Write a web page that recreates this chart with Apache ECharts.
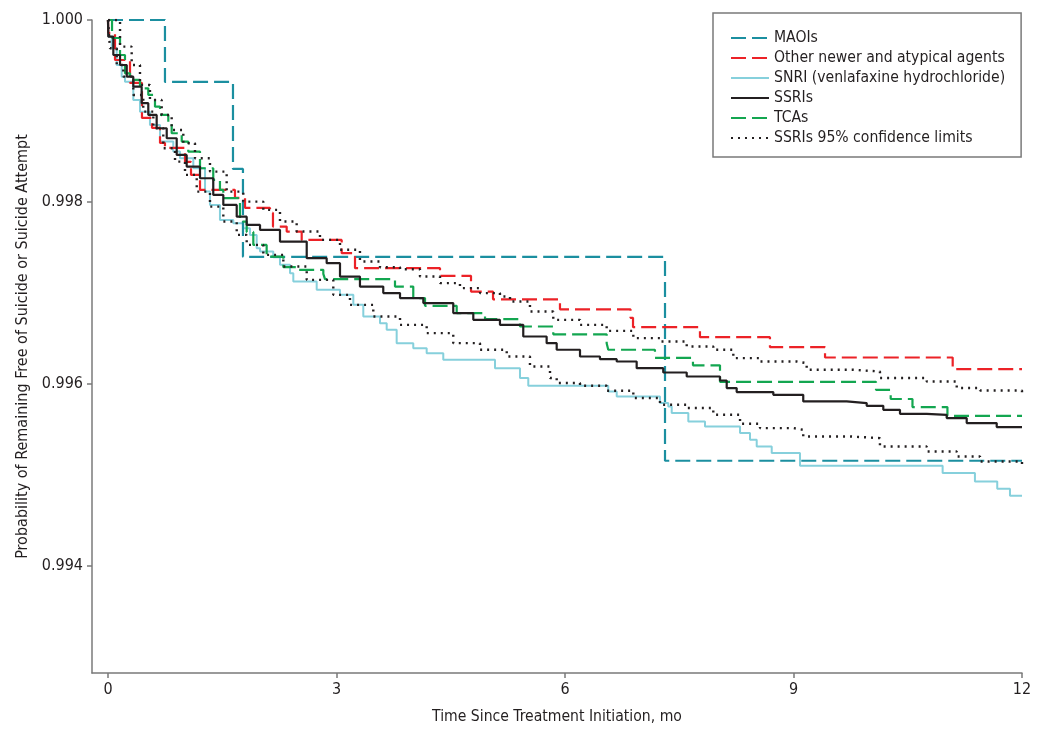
<!DOCTYPE html>
<html>
<head>
<meta charset="utf-8">
<script src="https://cdn.jsdelivr.net/npm/echarts@6/dist/echarts.min.js"></script>
<style>
html,body{margin:0;padding:0;background:#fff;}
#chart{width:1050px;height:738px;}
</style>
</head>
<body>
<div id="chart"></div>
<script>
// Series names
var seriesNames = ['MAOIs', 'Other newer and atypical agents', 'SNRI (venlafaxine hydrochloride)', 'SSRIs', 'TCAs', 'SSRIs 95% confidence limits'];
var xTicks = [0, 3, 6, 9, 12];
var yTicks = [0.994, 0.996, 0.998, 1.000];

// [month, survival probability] – Kaplan-Meier step points
var maoi = [[0,1],[0.748,0.999319],[1.641,0.998363],[1.772,0.997396],[7.313,0.995154],[12,0.995154]];

var other = [[0,1],[0.004,0.999857],[0.092,0.999560],[0.289,0.999308],[0.446,0.998923],[0.578,0.998813],[0.683,0.998648],[0.748,0.998593],[1.011,0.998440],[1.090,0.998297],[1.208,0.998132],[1.667,0.998044],[1.799,0.997934],[2.127,0.997879],[2.166,0.997729],[2.346,0.997674],[2.543,0.997582],[3.068,0.997436],[3.243,0.997271],[4.359,0.997187],[4.766,0.997014],[5.055,0.996929],[5.934,0.996819],[6.860,0.996725],[6.893,0.996623],[7.772,0.996513],[8.691,0.996403],[9.414,0.996289],[11.090,0.996162],[12,0.996162]];

var snri = [[0,1],[0.007,0.999817],[0.049,0.999689],[0.114,0.999505],[0.180,0.999377],[0.223,0.999322],[0.332,0.999121],[0.420,0.998992],[0.551,0.998846],[0.683,0.998663],[0.857,0.998553],[0.945,0.998480],[1.120,0.998370],[1.274,0.998113],[1.339,0.997967],[1.470,0.997802],[1.645,0.997766],[1.776,0.997711],[1.864,0.997637],[1.952,0.997491],[1.996,0.997454],[2.170,0.997392],[2.258,0.997308],[2.390,0.997216],[2.433,0.997124],[2.740,0.997033],[3.046,0.996978],[3.221,0.996868],[3.352,0.996740],[3.571,0.996667],[3.659,0.996593],[3.790,0.996447],[4.008,0.996392],[4.184,0.996337],[4.402,0.996264],[5.081,0.996172],[5.409,0.996063],[5.518,0.995978],[6.568,0.995915],[6.679,0.995860],[7.247,0.995788],[7.356,0.995751],[7.401,0.995678],[7.619,0.995586],[7.838,0.995531],[8.298,0.995458],[8.429,0.995385],[8.517,0.995311],[8.714,0.995238],[9.085,0.995099],[10.958,0.995019],[11.382,0.994926],[11.675,0.994846],[11.842,0.994769],[12,0.994769]];

var ssri = [[0,1],[0.004,0.999817],[0.070,0.999615],[0.158,0.999505],[0.246,0.999377],[0.332,0.999267],[0.442,0.999085],[0.529,0.998956],[0.639,0.998810],[0.771,0.998700],[0.902,0.998516],[1.033,0.998388],[1.208,0.998260],[1.382,0.998077],[1.514,0.997967],[1.690,0.997838],[1.821,0.997747],[1.996,0.997692],[2.258,0.997564],[2.609,0.997381],[2.871,0.997326],[3.046,0.997179],[3.308,0.997069],[3.614,0.996997],[3.834,0.996942],[4.140,0.996887],[4.533,0.996777],[4.796,0.996703],[5.146,0.996648],[5.452,0.996520],[5.759,0.996447],[5.891,0.996374],[6.197,0.996300],[6.459,0.996271],[6.679,0.996245],[6.941,0.996172],[7.290,0.996124],[7.598,0.996080],[8.035,0.996036],[8.123,0.995953],[8.254,0.995909],[8.735,0.995879],[9.128,0.995806],[9.698,0.995788],[9.961,0.995758],[10.179,0.995714],[10.398,0.995670],[10.749,0.995659],[11.011,0.995623],[11.274,0.995568],[11.668,0.995524],[12,0.995524]];

var tca = [[0,1],[0.053,0.999802],[0.158,0.999615],[0.223,0.999414],[0.289,0.999341],[0.420,0.999249],[0.529,0.999176],[0.617,0.999047],[0.683,0.998956],[0.792,0.998865],[0.836,0.998755],[0.968,0.998663],[1.054,0.998553],[1.208,0.998370],[1.382,0.998242],[1.470,0.998132],[1.514,0.998041],[1.733,0.997784],[1.821,0.997670],[1.908,0.997527],[2.083,0.997399],[2.302,0.997282],[2.498,0.997253],[2.827,0.997209],[2.849,0.997150],[3.768,0.997069],[4.008,0.996942],[4.162,0.996857],[4.578,0.996777],[4.950,0.996711],[5.409,0.996630],[5.846,0.996544],[6.547,0.996447],[6.568,0.996374],[7.181,0.996286],[7.680,0.996203],[8.035,0.996022],[10.083,0.995934],[10.276,0.995833],[10.562,0.995744],[11.021,0.995648],[12,0.995648]];

var ciUpper = [[0,1],[0.158,0.999707],[0.311,0.999505],[0.420,0.999286],[0.551,0.999121],[0.705,0.998956],[0.836,0.998791],[0.989,0.998645],[1.142,0.998480],[1.339,0.998333],[1.558,0.998113],[1.776,0.998003],[2.039,0.997912],[2.258,0.997784],[2.477,0.997674],[2.783,0.997582],[3.046,0.997473],[3.308,0.997344],[3.571,0.997282],[3.834,0.997260],[4.096,0.997179],[4.359,0.997107],[4.621,0.997052],[4.884,0.996997],[5.146,0.996959],[5.278,0.996904],[5.540,0.996795],[5.846,0.996703],[6.197,0.996648],[6.547,0.996582],[6.897,0.996502],[7.247,0.996465],[7.598,0.996410],[7.947,0.996374],[8.210,0.996282],[8.560,0.996245],[9.042,0.996227],[9.173,0.996154],[9.785,0.996135],[10.135,0.996063],[10.749,0.996025],[11.143,0.995953],[11.449,0.995926],[12,0.995904]];

var ciLower = [[0,1],[0.026,0.999689],[0.115,0.999505],[0.201,0.999377],[0.332,0.999176],[0.463,0.998992],[0.595,0.998810],[0.726,0.998590],[0.880,0.998443],[1.011,0.998297],[1.165,0.998113],[1.339,0.997948],[1.514,0.997784],[1.690,0.997637],[1.821,0.997527],[2.039,0.997418],[2.302,0.997289],[2.609,0.997143],[2.958,0.996978],[3.177,0.996868],[3.483,0.996740],[3.834,0.996648],[4.184,0.996557],[4.533,0.996447],[4.884,0.996374],[5.235,0.996300],[5.540,0.996190],[5.803,0.996063],[5.891,0.996008],[6.197,0.995978],[6.547,0.995923],[6.897,0.995843],[7.247,0.995769],[7.598,0.995733],[7.947,0.995659],[8.298,0.995560],[8.560,0.995513],[8.997,0.995494],[9.128,0.995421],[9.742,0.995403],[10.135,0.995311],[10.749,0.995256],[11.143,0.995201],[11.449,0.995146],[12,0.995110]];

var FONT = '"Liberation Sans Narrow", "DejaVu Sans Condensed", "Liberation Sans", sans-serif';
var TXT = '#231f20';
var AXIS = '#7a7a7a';

function mk(name, data, color, type, width, z) {
  return {
    name: name, type: 'line', data: data, step: 'end',
    symbol: 'none', showSymbol: false, z: z || 2,
    lineStyle: { color: color, width: width, type: type, cap: 'butt' },
    itemStyle: { color: color },
    emphasis: { disabled: true }
  };
}

var chart = echarts.init(document.getElementById('chart'), null, { renderer: 'canvas' });
chart.setOption({
  animation: false,
  backgroundColor: '#ffffff',
  textStyle: { fontFamily: FONT, color: TXT },
  grid: { left: 92, right: 28, top: 20, bottom: 65 },
  legend: {
    orient: 'vertical', left: 713, top: 13,
    padding: [16, 16, 10, 17],
    borderColor: '#7a7a7a', borderWidth: 1.5,
    itemWidth: 38, itemHeight: 14, itemGap: 2,
    itemStyle: { opacity: 0 },
    data: seriesNames,
    textStyle: { fontFamily: FONT, fontSize: 15.6, color: TXT, lineHeight: 18 },
    selectedMode: false
  },
  xAxis: {
    type: 'value', min: -0.21, max: 12, interval: 3,
    name: 'Time Since Treatment Initiation, mo', nameLocation: 'middle', nameGap: 36,
    nameTextStyle: { fontFamily: FONT, fontSize: 15.6, color: TXT },
    axisLine: { onZero: false, lineStyle: { color: AXIS, width: 1.5 } },
    axisTick: { show: true, length: 5, lineStyle: { color: AXIS, width: 1.5 }, customValues: xTicks },
    axisLabel: { fontFamily: FONT, fontSize: 16, color: TXT, margin: 9, customValues: xTicks },
    splitLine: { show: false }
  },
  yAxis: {
    type: 'value', min: 0.99282, max: 1.0,
    name: 'Probability of Remaining Free of Suicide or Suicide Attempt', nameLocation: 'middle', nameGap: 58,
    nameTextStyle: { fontFamily: FONT, fontSize: 16, color: TXT },
    axisLine: { show: true, onZero: false, lineStyle: { color: AXIS, width: 1.5 } },
    axisTick: { show: true, length: 5, lineStyle: { color: AXIS, width: 1.5 }, customValues: yTicks },
    axisLabel: { fontFamily: FONT, fontSize: 16, color: TXT, margin: 9, customValues: yTicks,
      formatter: function (v) { return v.toFixed(3); } },
    splitLine: { show: false }
  },
  series: [
    mk(seriesNames[0], maoi, '#1b8fa0', [15, 6], 2.2, 3),
    mk(seriesNames[1], other, '#ec2227', [15, 6], 2.2, 3),
    mk(seriesNames[2], snri, '#86d0dc', 'solid', 2, 2),
    mk(seriesNames[3], ssri, '#231f20', 'solid', 2.2, 4),
    mk(seriesNames[4], tca, '#13a650', [15, 6], 2.2, 3),
    mk(seriesNames[5], ciUpper, '#231f20', [2, 5], 2.4, 3),
    mk(seriesNames[5], ciLower, '#231f20', [2, 5], 2.4, 3)
  ]
});
</script>
</body>
</html>
